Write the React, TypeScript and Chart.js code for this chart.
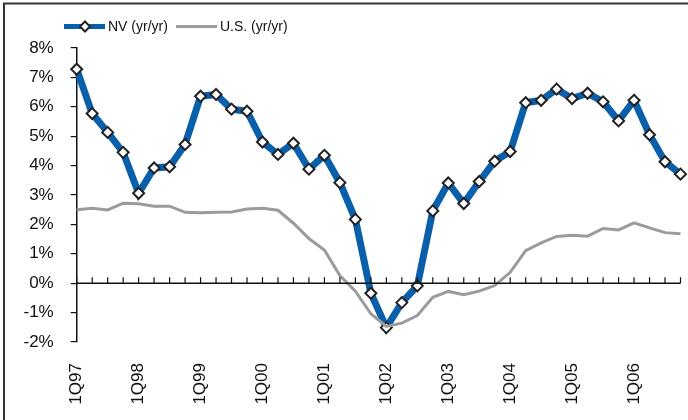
import React, { useEffect, useRef } from "react";
import { Chart, registerables } from "chart.js";

Chart.register(...registerables);

const quarters: string[] = [
  "1Q97", "2Q97", "3Q97", "4Q97",
  "1Q98", "2Q98", "3Q98", "4Q98",
  "1Q99", "2Q99", "3Q99", "4Q99",
  "1Q00", "2Q00", "3Q00", "4Q00",
  "1Q01", "2Q01", "3Q01", "4Q01",
  "1Q02", "2Q02", "3Q02", "4Q02",
  "1Q03", "2Q03", "3Q03", "4Q03",
  "1Q04", "2Q04", "3Q04", "4Q04",
  "1Q05", "2Q05", "3Q05", "4Q05",
  "1Q06", "2Q06", "3Q06", "4Q06",
];

const nvYoY: number[] = [
  7.28, 5.77, 5.13, 4.45,
  3.06, 3.92, 3.96, 4.72,
  6.36, 6.42, 5.92, 5.85,
  4.8, 4.38, 4.76, 3.88,
  4.35, 3.42, 2.17, -0.34,
  -1.51, -0.66, -0.09, 2.46,
  3.41, 2.71, 3.46, 4.15,
  4.48, 6.14, 6.22, 6.6,
  6.28, 6.46, 6.17, 5.52,
  6.22, 5.05, 4.13, 3.71,
];

const usYoY: number[] = [
  2.5, 2.55, 2.49, 2.72,
  2.7, 2.62, 2.62, 2.41,
  2.4, 2.41, 2.42, 2.52,
  2.55, 2.48, 2.04, 1.52,
  1.13, 0.26, -0.27, -1.04,
  -1.47, -1.36, -1.1, -0.48,
  -0.28, -0.39, -0.27, -0.08,
  0.37, 1.11, 1.37, 1.59,
  1.63, 1.6, 1.86, 1.81,
  2.05, 1.88, 1.72, 1.68,
];

const seriesNames: string[] = ["NV (yr/yr)", "U.S. (yr/yr)"];
const yMin = -2;
const yMax = 8;

const FONT = "'Liberation Sans', Arial, Helvetica, sans-serif";
const BLUE = "#0A5FAB";
const GRAY = "#9B9B9B";

const framePlugin = {
  id: "frameAndLegend",
  afterDraw(chart: any) {
    const ctx = chart.ctx;
    const x = chart.scales.x;
    const y = chart.scales.y;
    const y0 = y.getPixelForValue(0);
    ctx.save();
    // zero axis line with upward ticks
    ctx.strokeStyle = "#111";
    ctx.lineWidth = 1.5;
    ctx.beginPath();
    ctx.moveTo(chart.chartArea.left, y0);
    ctx.lineTo(x.getPixelForValue(quarters.length - 1), y0);
    ctx.stroke();
    ctx.lineWidth = 1.2;
    for (let i = 0; i < quarters.length; i++) {
      const px = x.getPixelForValue(i);
      ctx.beginPath();
      ctx.moveTo(px, y0);
      ctx.lineTo(px, y0 - 6);
      ctx.stroke();
    }
    // outer frame (top and left)
    ctx.strokeStyle = "#333";
    ctx.lineWidth = 2;
    ctx.beginPath();
    ctx.moveTo(4, 420);
    ctx.lineTo(4, 3.5);
    ctx.lineTo(688, 3.5);
    ctx.stroke();
    // legend
    const ly = 26.5;
    ctx.lineCap = "butt";
    ctx.strokeStyle = BLUE;
    ctx.lineWidth = 5;
    ctx.beginPath();
    ctx.moveTo(64, ly);
    ctx.lineTo(105, ly);
    ctx.stroke();
    ctx.fillStyle = "#fff";
    ctx.strokeStyle = "#222";
    ctx.lineWidth = 2;
    ctx.beginPath();
    ctx.moveTo(85, ly - 5);
    ctx.lineTo(90, ly);
    ctx.lineTo(85, ly + 5);
    ctx.lineTo(80, ly);
    ctx.closePath();
    ctx.fill();
    ctx.stroke();
    ctx.strokeStyle = GRAY;
    ctx.lineWidth = 3;
    ctx.beginPath();
    ctx.moveTo(176, ly);
    ctx.lineTo(217, ly);
    ctx.stroke();
    ctx.fillStyle = "#111";
    ctx.font = `14px ${FONT}`;
    ctx.textBaseline = "middle";
    ctx.textAlign = "left";
    ctx.fillText(seriesNames[0], 108, ly + 0.5);
    ctx.fillText(seriesNames[1], 220, ly + 0.5);
    ctx.restore();
  },
};

export default function App() {
  const ref = useRef<HTMLCanvasElement | null>(null);

  useEffect(() => {
    if (!ref.current) return;
    const chart = new Chart(ref.current, {
      type: "line",
      data: {
        labels: quarters,
        datasets: [
          {
            label: seriesNames[0],
            data: nvYoY,
            borderColor: BLUE,
            backgroundColor: "#ffffff",
            borderWidth: 7,
            pointStyle: "rectRot",
            pointRadius: 5.5,
            pointBorderWidth: 2,
            pointBorderColor: "#222",
            pointBackgroundColor: "#ffffff",
            tension: 0,
            order: 1,
            clip: false,
          } as any,
          {
            label: seriesNames[1],
            data: usYoY,
            borderColor: GRAY,
            borderWidth: 3,
            pointRadius: 0,
            tension: 0,
            order: 0,
            clip: false,
          } as any,
        ],
      },
      options: {
        responsive: false,
        animation: false,
        layout: { padding: { left: 0, right: 6.3, top: 48, bottom: 0 } },
        plugins: {
          legend: { display: false },
          tooltip: { enabled: false },
          title: { display: false },
        },
        scales: {
          x: {
            type: "category",
            offset: false,
            grid: { display: false, drawTicks: false },
            border: { display: false },
            afterFit: (s: any) => {
              s.height = 78;
              s.paddingLeft = 0;
              s.paddingRight = 0;
            },
            ticks: {
              autoSkip: false,
              minRotation: 90,
              maxRotation: 90,
              padding: 21,
              color: "#111",
              font: { family: FONT, size: 17 },
              callback: (_v: any, i: number) => (i % 4 === 0 ? quarters[i] : ""),
            },
          },
          y: {
            min: yMin,
            max: yMax,
            grid: {
              drawOnChartArea: false,
              drawTicks: true,
              tickLength: 6,
              color: "#111",
              lineWidth: 1.2,
            },
            border: { display: true, color: "#111", width: 1.5 },
            afterFit: (s: any) => {
              s.width = 76.7;
              s.paddingTop = 0;
              s.paddingBottom = 0;
            },
            ticks: {
              stepSize: 1,
              padding: 17,
              color: "#111",
              font: { family: FONT, size: 17 },
              callback: (v: any) => `${v}%`,
            },
          },
        },
      },
      plugins: [framePlugin],
    } as any);
    return () => chart.destroy();
  }, []);

  return (
    <div style={{ position: "absolute", left: 0, top: 0, width: 688, height: 420, background: "#fff" }}>
      <canvas ref={ref} width={688} height={420} style={{ display: "block" }} />
    </div>
  );
}
